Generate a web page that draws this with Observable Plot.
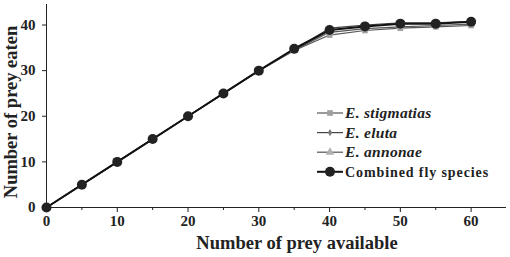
<!DOCTYPE html>
<html><head><meta charset="utf-8">
<script src="https://cdn.jsdelivr.net/npm/d3@7"></script>
<script src="https://cdn.jsdelivr.net/npm/@observablehq/plot@0.6"></script>
<style>
body{margin:0;background:#fff;}
#chart svg{font-family:"Liberation Serif","Times New Roman",serif;}
</style>
</head><body><div id="chart"></div>
<script>
const preyAvailable = [0,5,10,15,20,25,30,35,40,45,50,55,60];
const stigmatias = [0,5,10,15,20,25,30,34.4,37.8,38.8,39.3,39.6,39.9];
const eluta      = [0,5,10,15,20,25,30,34.6,39.3,40.0,40.5,40.5,40.8];
const annonae    = [0,5,10,15,20,25,30,34.5,38.4,39.2,39.6,39.9,40.2];
const combined   = [0,5,10,15,20,25,30,34.8,38.9,39.7,40.3,40.3,40.7];
const xTicks = [0,10,20,30,40,50,60];
const xMinor = [5,15,25,35,45,55];
const yTicks = [0,10,20,30,40];

const series = [
  {name:"E. stigmatias", values:stigmatias, symbol:"square", fill:"#a0a0a0", stroke:"#555", r:3.2, italic:true},
  {name:"E. eluta", values:eluta, symbol:"diamond", fill:"#777", stroke:"#444", r:2.2, italic:true},
  {name:"E. annonae", values:annonae, symbol:"triangle", fill:"#b0b0b0", stroke:"#555", r:3.2, italic:true},
  {name:"Combined fly species", values:combined, symbol:"circle", fill:"#222", stroke:"#111", r:5, italic:false}
];
const rows = series.flatMap(s => preyAvailable.map((x,i)=>({series:s.name, x, y:s.values[i], symbol:s.symbol})));

const marks = [];
series.forEach(s=>{
  const d = rows.filter(r=>r.series===s.name);
  marks.push(Plot.line(d,{x:"x",y:"y",stroke:s.stroke,strokeWidth:s.italic?1.2:2}));
});
series.forEach(s=>{
  const d = rows.filter(r=>r.series===s.name);
  marks.push(Plot.dot(d,{x:"x",y:"y",symbol:"symbol",r:s.r,fill:s.fill,stroke:"none"}));
});

const chart = Plot.plot({
  width:510, height:257,
  marginLeft:46, marginRight:4, marginTop:4, marginBottom:50,
  style:{fontFamily:"Liberation Serif, Times New Roman, serif", background:"#fff", color:"#222"},
  x:{domain:[0,65], label:null},
  y:{domain:[0,44.5], label:null},
  symbol:{type:"identity"},
  marks:[
    Plot.axisX({ticks:xMinor, tickSize:3, tickFormat:()=>"", label:null}),
    Plot.axisX({ticks:xTicks, tickSize:5, tickPadding:3, fontSize:15, fontWeight:"bold", label:null}),
    Plot.axisY({ticks:yTicks, tickSize:4, tickPadding:7, fontSize:15, fontWeight:"bold", label:null}),
    Plot.ruleY([0],{stroke:"#222",strokeWidth:1}),
    Plot.ruleX([0],{stroke:"#222",strokeWidth:1}),
    ...marks
  ]
});
document.getElementById("chart").appendChild(chart);

const svg = d3.select(chart);
// axis titles
svg.append("text").attr("x",297).attr("y",249).attr("text-anchor","middle")
  .attr("font-size",18.5).attr("font-weight","bold").attr("fill","#222").text("Number of prey available");
svg.append("text").attr("transform","translate(17,112) rotate(-90)").attr("text-anchor","middle")
  .attr("font-size",18.5).attr("font-weight","bold").attr("fill","#222").text("Number of prey eaten");

// legend
const lg = svg.append("g").attr("transform","translate(317,113)");
const symMap = {square:d3.symbolSquare, diamond:d3.symbolDiamond, triangle:d3.symbolTriangle, circle:d3.symbolCircle};
series.forEach((s,i)=>{
  const g = lg.append("g").attr("transform",`translate(0,${i*19.6})`);
  g.append("line").attr("x1",0).attr("x2",26).attr("y1",0).attr("y2",0)
    .attr("stroke",s.stroke).attr("stroke-width",s.italic?1.2:2);
  g.append("path").attr("transform","translate(13,0)")
    .attr("d",d3.symbol(symMap[s.symbol], Math.PI*s.r*s.r)())
    .attr("fill",s.fill);
  g.append("text").attr("x",28).attr("y",5).attr("font-size",s.italic?15.5:14)
    .attr("font-weight","bold")
    .attr("font-style",s.italic?"italic":"normal").attr("fill","#222")
    .attr("text-anchor","start")
    .attr("letter-spacing",s.italic?0.3:0.9).text(s.name);
});
</script>
</body></html>
